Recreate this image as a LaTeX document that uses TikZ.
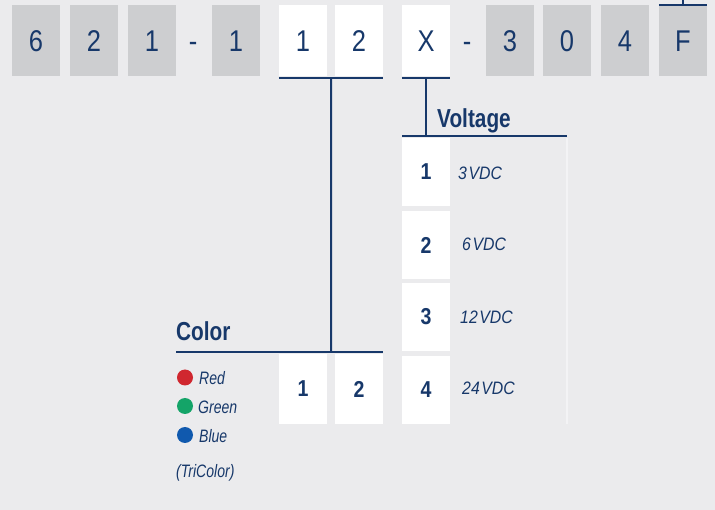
\documentclass[tikz,border=0pt]{standalone}
\usepackage{fontspec}
\setmainfont{Liberation Sans}
\newfontfamily\digitfont[FakeStretch=0.85]{Liberation Sans}
\newfontfamily\headfont[FakeStretch=0.8]{Liberation Sans}
\newfontfamily\labfont[FakeStretch=0.78]{Liberation Sans}
\newfontfamily\vdcfont[FakeStretch=0.88]{Liberation Sans}
\usetikzlibrary{calc}
\definecolor{bgc}{HTML}{EBEBED}
\definecolor{greybox}{HTML}{CDCED0}
\definecolor{navy}{HTML}{17386A}
\definecolor{dotred}{HTML}{D0272F}
\definecolor{dotgreen}{HTML}{14A468}
\definecolor{dotblue}{HTML}{1059AE}
\definecolor{faint}{HTML}{F3F3F5}
\tikzset{
  x=1pt, y=-1pt,
  codebox/.style={minimum width=48pt, minimum height=71pt, inner sep=0pt, text=navy, font=\digitfont\fontsize{30}{30}\selectfont},
  greycode/.style={codebox, fill=greybox},
  whitecode/.style={codebox, fill=white},
  dashtxt/.style={text=navy, font=\digitfont\fontsize{30}{30}\selectfont, inner sep=0pt, anchor=base},
  optbox/.style={fill=white, minimum width=48pt, minimum height=68pt, inner sep=0pt, text=navy, font=\digitfont\bfseries\fontsize{23}{23}\selectfont},
  headtxt/.style={text=navy, font=\headfont\bfseries\fontsize{26}{26}\selectfont, inner sep=0pt, anchor=base west},
  labtxt/.style={text=navy, font=\labfont\itshape\fontsize{18}{18}\selectfont, inner sep=0pt, anchor=west},
  vdctxt/.style={text=navy, font=\vdcfont\itshape\fontsize{18}{18}\selectfont, inner sep=0pt, anchor=west},
  navyline/.style={draw=navy, line width=2pt},
  dot/.style={circle, minimum size=16pt, inner sep=0pt}
}
\begin{document}
\begin{tikzpicture}
\fill[bgc] (0,0) rectangle (715,510);
\useasboundingbox (0,0) rectangle (715,510);
% top code row
\node[greycode] (t1) at (36,41) {6};
\node[greycode] (t2) at (94,41) {2};
\node[greycode] (t3) at (152,41) {1};
\node[dashtxt] (d1) at (193,52) {-};
\node[greycode] (t4) at (236,41) {1};
\node[whitecode] (t5) at (303,41) {1};
\node[whitecode] (t6) at (359,41) {2};
\node[whitecode] (t7) at (426,41) {X};
\node[dashtxt] (d2) at (467,52) {-};
\node[greycode] (t8) at (510,41) {3};
\node[greycode] (t9) at (567,41) {0};
\node[greycode] (t10) at (625,41) {4};
\node[greycode, minimum height=70pt] (t11) at (683,41.5) {F};
% line above F
\draw[navyline] ($(t11.north west)+(0,-1.5)$) -- ($(t11.north east)+(0,-1.5)$);
\coordinate (ftop) at (683,0);
\draw[navyline] ($(t11.north)+(0,-1.5)$) -- (ftop);
% underlines
\draw[navyline] ($(t5.south west)+(0,1)$) -- ($(t6.south east)+(0,1)$);
\draw[navyline] ($(t7.south west)+(0,1)$) -- ($(t7.south east)+(0,1)$);
% voltage section
\coordinate (vj) at (426,136);
\coordinate (vl) at (402,136);
\coordinate (vr) at (567,136);
\draw[navyline] ($(t7.south)+(0,1)$) -- (vj);
\draw[navyline] (vl) -- (vr);
\node[headtxt] (vh) at (437,128) {Voltage};
\node[optbox] (v1) at (426,172) {1};
\node[optbox] (v2) at (426,245) {2};
\node[optbox] (v3) at (426,317) {3};
\node[optbox] (v4) at (426,390) {4};
\coordinate (fa) at (567,138);
\coordinate (fb) at (567,424);
\draw[faint, line width=1.5pt] (fa) -- (fb);
\node[vdctxt] (l1) at (458,173) {3\kern1.5pt VDC};
\node[vdctxt] (l2) at (462,244) {6\kern1.5pt VDC};
\node[vdctxt] (l3) at (460,317) {12\kern1.5pt VDC};
\node[vdctxt] (l4) at (462,388) {24\kern1.5pt VDC};
% color section
\coordinate (cj) at (331,352);
\coordinate (cl) at (176,352);
\coordinate (cr) at (383,352);
\draw[navyline] ($(t5.south east)!0.5!(t6.south west)+(0,1)$) -- (cj);
\draw[navyline] (cl) -- (cr);
\node[headtxt] (ch) at (176,341) {Color};
\node[optbox, minimum height=70pt] (c1) at (303,389) {1};
\node[optbox, minimum height=70pt] (c2) at (359,389) {2};
\node[dot, fill=dotred] (r) at (185,377.5) {};
\node[dot, fill=dotgreen] (g) at (185,406) {};
\node[dot, fill=dotblue] (b) at (185,435) {};
\node[labtxt] (lr) at (199,378) {Red};
\node[labtxt] (lg) at (198,407) {Green};
\node[labtxt] (lb) at (199,436) {Blue};
\node[labtxt] (lt) at (176,473) {(TriColor)};
\end{tikzpicture}
\end{document}
